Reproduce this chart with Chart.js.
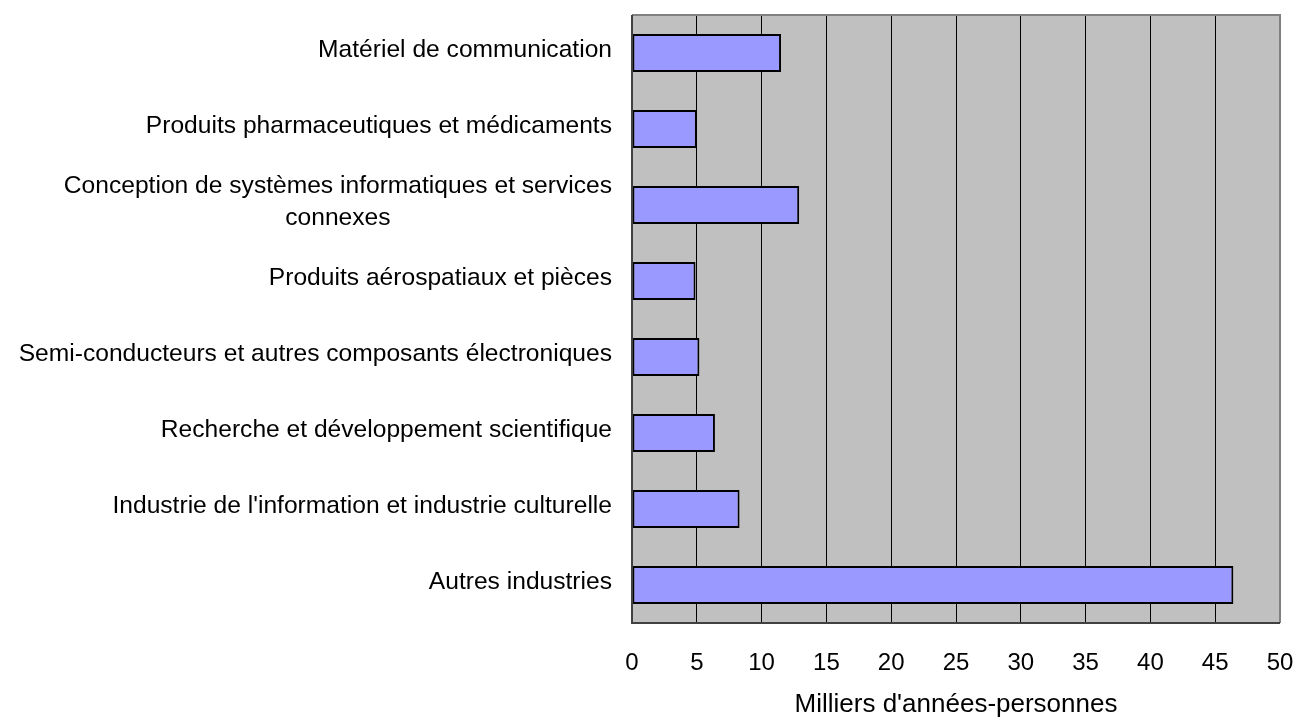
<!DOCTYPE html>
<html>
<head>
<meta charset="utf-8">
<script src="https://cdn.jsdelivr.net/npm/chart.js@4/dist/chart.umd.min.js"></script>
<style>
html,body{margin:0;padding:0;background:#fff;}
#wrap{width:1296px;height:717px;}
</style>
</head>
<body>
<div id="wrap"><canvas id="c" width="1296" height="717"></canvas></div>
<script>
const categories = [
  "Matériel de communication",
  "Produits pharmaceutiques et médicaments",
  ["Conception de systèmes informatiques et services", "connexes"],
  "Produits aérospatiaux et pièces",
  "Semi-conducteurs et autres composants électroniques",
  "Recherche et développement scientifique",
  "Industrie de l'information et industrie culturelle",
  "Autres industries"
];
const values = [11.5, 5.0, 12.9, 4.9, 5.2, 6.4, 8.3, 46.4];
const xTicks = [0, 5, 10, 15, 20, 25, 30, 35, 40, 45, 50];
const xTitle = "Milliers d'années-personnes";

const FONT = "'Liberation Sans', Arial, sans-serif";

const plotDeco = {
  id: 'plotDeco',
  beforeDraw(chart) {
    const {ctx, chartArea: a} = chart;
    ctx.save();
    ctx.fillStyle = '#C0C0C0';
    ctx.fillRect(a.left, a.top, a.right - a.left, a.bottom - a.top);
    ctx.restore();
  },
  afterDatasetsDraw(chart) {
    const {ctx, chartArea: a} = chart;
    ctx.save();
    ctx.lineWidth = 2;
    ctx.strokeStyle = '#808080';
    ctx.beginPath();
    ctx.moveTo(a.left, a.top); ctx.lineTo(a.right, a.top); ctx.lineTo(a.right, a.bottom);
    ctx.stroke();
    ctx.strokeStyle = '#404040';
    ctx.beginPath();
    ctx.moveTo(a.left, a.top); ctx.lineTo(a.left, a.bottom); ctx.lineTo(a.right, a.bottom);
    ctx.stroke();
    ctx.restore();
  },
  afterDraw(chart) {
    const {ctx, chartArea: a} = chart;
    const y = chart.scales.y;
    ctx.save();
    ctx.fillStyle = '#000';
    ctx.font = '24.6px ' + FONT;
    ctx.textBaseline = 'middle';
    const rightX = a.left - 20;
    categories.forEach((lab, i) => {
      const cy = y.getPixelForValue(i) - 3;
      if (Array.isArray(lab)) {
        const w = Math.max(...lab.map(l => ctx.measureText(l).width));
        const cx = rightX - w / 2;
        ctx.textAlign = 'center';
        const lh = 32;
        lab.forEach((l, j) => {
          ctx.fillText(l, cx, cy + (j - (lab.length - 1) / 2) * lh);
        });
      } else {
        ctx.textAlign = 'right';
        ctx.fillText(lab, rightX, cy);
      }
    });
    ctx.restore();
  }
};

new Chart(document.getElementById('c'), {
  type: 'bar',
  data: {
    labels: categories,
    datasets: [{
      data: values,
      backgroundColor: '#9999FF',
      borderColor: '#000000',
      borderWidth: 2,
      borderSkipped: false,
      barPercentage: 0.5,
      categoryPercentage: 1.0
    }]
  },
  options: {
    indexAxis: 'y',
    responsive: false,
    animation: false,
    devicePixelRatio: 1,
    layout: { padding: { top: 15, right: 16, left: 0, bottom: 0 } },
    plugins: { legend: { display: false }, tooltip: { enabled: false } },
    scales: {
      x: {
        min: 0, max: 50,
        afterBuildTicks(scale) { scale.ticks = xTicks.map(v => ({ value: v })); },
        afterFit(scale) { scale.height = 94; scale.paddingLeft = 0; scale.paddingRight = 0; },
        grid: { color: '#000000', lineWidth: 1, drawTicks: false, tickLength: 0 },
        border: { display: false },
        ticks: { color: '#000', font: { family: FONT, size: 24 }, padding: 26, maxRotation: 0 },
        title: { display: true, text: xTitle, color: '#000', font: { family: FONT, size: 26 }, padding: { top: 0, bottom: -3 } }
      },
      y: {
        afterFit(scale) { scale.width = 632; },
        grid: { display: false, drawTicks: false },
        border: { display: false },
        ticks: { display: false }
      }
    }
  },
  plugins: [plotDeco]
});
</script>
</body>
</html>
